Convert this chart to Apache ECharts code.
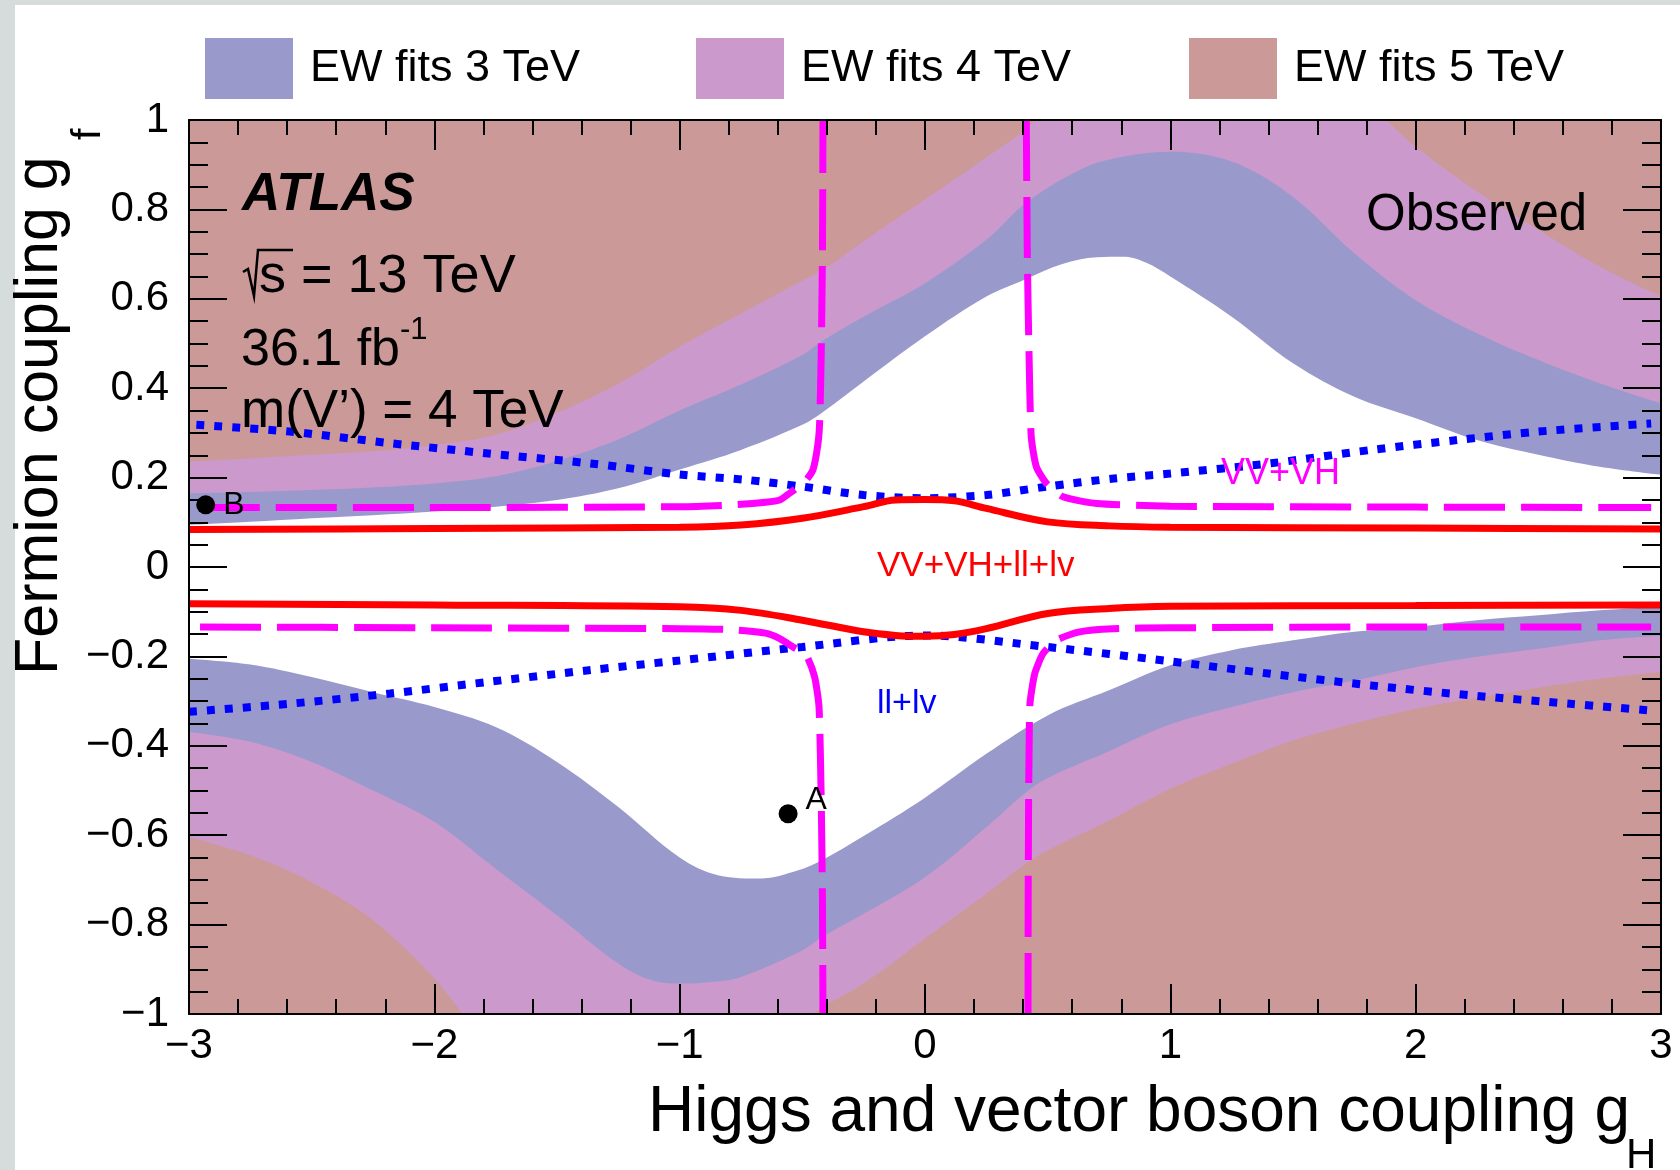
<!DOCTYPE html>
<html><head><meta charset="utf-8">
<script src="https://cdn.jsdelivr.net/npm/echarts/dist/echarts.min.js"></script>
<style>html,body{margin:0;padding:0;background:#fff}#c{width:1680px;height:1170px}</style>
</head><body><div id="c"></div>
<script>
// ---------- data ----------
const legendNames = ['EW fits 3 TeV', 'EW fits 4 TeV', 'EW fits 5 TeV'];
const bandColors = ['#9999cc', '#cc99cc', '#cc9999'];

// EW fit boundaries, upper half (area above curve excluded)
const up3 = [[-3,0.094],[-2.75,0.101],[-2.5,0.109],[-2.25,0.116],[-2,0.124],[-1.75,0.135],[-1.5,0.150],[-1.25,0.176],[-1,0.218],[-0.75,0.262],[-0.5,0.318],[-0.42,0.345],[-0.25,0.415],[0,0.516],[0.25,0.605],[0.41,0.644],[0.56,0.678],[0.7,0.693],[0.81,0.694],[0.9,0.681],[1,0.650],[1.25,0.560],[1.5,0.456],[1.75,0.381],[2,0.333],[2.25,0.284],[2.5,0.251],[2.75,0.224],[3,0.206]];
const up4 = [[-3,0.165],[-2.75,0.168],[-2.5,0.172],[-2.25,0.178],[-2,0.187],[-1.75,0.203],[-1.5,0.237],[-1.25,0.285],[-1,0.350],[-0.75,0.408],[-0.5,0.474],[-0.42,0.505],[-0.25,0.560],[0,0.635],[0.25,0.732],[0.41,0.814],[0.63,0.888],[0.77,0.914],[1,0.929],[1.25,0.907],[1.5,0.828],[1.75,0.702],[2,0.597],[2.25,0.523],[2.5,0.463],[2.75,0.411],[3,0.366]];
const up5a = [[-3,0.236],[-2.75,0.243],[-2.5,0.251],[-2.25,0.259],[-2,0.273],[-1.75,0.296],[-1.5,0.345],[-1.25,0.41],[-1,0.493],[-0.75,0.567],[-0.5,0.641],[-0.42,0.664],[-0.25,0.729],[0,0.822],[0.25,0.916],[0.41,0.978],[0.447,1.0]];
const up5b = [[1.88,1.0],[2,0.94],[2.25,0.84],[2.5,0.754],[2.75,0.672],[3,0.605]];
// lower half (area below curve excluded)
const lo3 = [[-3,-0.205],[-2.75,-0.218],[-2.5,-0.246],[-2.25,-0.280],[-2,-0.313],[-1.75,-0.358],[-1.5,-0.436],[-1.25,-0.537],[-1,-0.650],[-0.84,-0.690],[-0.67,-0.697],[-0.52,-0.679],[-0.42,-0.656],[-0.25,-0.602],[0,-0.516],[0.25,-0.418],[0.5,-0.332],[0.75,-0.276],[1,-0.220],[1.25,-0.186],[1.5,-0.164],[1.75,-0.145],[2,-0.134],[2.25,-0.119],[2.5,-0.108],[2.75,-0.097],[3,-0.089]];
const lo4 = [[-3,-0.369],[-2.75,-0.391],[-2.5,-0.436],[-2.25,-0.50],[-2,-0.570],[-1.75,-0.675],[-1.5,-0.779],[-1.25,-0.887],[-1.1,-0.927],[-1,-0.932],[-0.86,-0.928],[-0.75,-0.917],[-0.5,-0.858],[-0.42,-0.828],[-0.25,-0.776],[0,-0.694],[0.25,-0.582],[0.41,-0.505],[0.5,-0.472],[0.75,-0.412],[1,-0.352],[1.25,-0.313],[1.5,-0.28],[1.75,-0.254],[2,-0.224],[2.25,-0.201],[2.5,-0.183],[2.75,-0.164],[3,-0.153]];
const lo5a = [[-3,-0.604],[-2.75,-0.645],[-2.5,-0.705],[-2.25,-0.79],[-2,-0.92],[-1.886,-1.0]];
const lo5b = [[-0.457,-1.0],[-0.42,-0.985],[-0.25,-0.932],[0,-0.831],[0.25,-0.731],[0.41,-0.664],[0.5,-0.634],[0.75,-0.567],[1,-0.496],[1.25,-0.44],[1.5,-0.388],[1.75,-0.35],[2,-0.317],[2.25,-0.293],[2.5,-0.27],[2.75,-0.25],[3,-0.235]];

// VV+VH+ll+lv (red, solid)
const combUp = [[-3,0.084],[-2,0.086],[-1,0.089],[-0.75,0.094],[-0.5,0.109],[-0.25,0.135],[-0.12,0.150],[0,0.151],[0.12,0.148],[0.25,0.131],[0.5,0.101],[0.75,0.092],[1,0.089],[2,0.087],[3,0.085]];
const combLo = [[-3,-0.082],[-2,-0.085],[-1,-0.089],[-0.75,-0.097],[-0.5,-0.119],[-0.25,-0.145],[-0.12,-0.153],[0,-0.155],[0.12,-0.151],[0.25,-0.138],[0.5,-0.104],[0.75,-0.093],[1,-0.088],[2,-0.086],[3,-0.085]];

// VV+VH (magenta, dashed)
const vvUL = [[-2.96,0.133],[-2,0.133],[-1,0.135],[-0.78,0.139],[-0.65,0.145],[-0.592,0.150],[-0.552,0.165],[-0.49,0.191],[-0.457,0.217],[-0.436,0.277],[-0.429,0.329],[-0.423,0.478],[-0.418,0.70],[-0.416,1.0]];
const vvUR = [[0.413,1.0],[0.417,0.70],[0.424,0.478],[0.433,0.292],[0.454,0.224],[0.495,0.187],[0.563,0.157],[0.70,0.142],[1,0.136],[2,0.134],[2.96,0.133]];
const vvLL = [[-2.955,-0.134],[-2,-0.136],[-1,-0.138],[-0.8,-0.140],[-0.65,-0.148],[-0.592,-0.160],[-0.538,-0.179],[-0.484,-0.198],[-0.45,-0.246],[-0.432,-0.313],[-0.423,-0.522],[-0.418,-0.746],[-0.416,-1.0]];
const vvLR = [[0.42,-1.0],[0.421,-0.671],[0.427,-0.313],[0.447,-0.239],[0.481,-0.194],[0.535,-0.164],[0.63,-0.145],[0.766,-0.138],[1,-0.136],[2,-0.134],[2.96,-0.134]];

// ll+lv (blue, dotted)
const llUp = [[-2.97,0.318],[-2.59,0.303],[-2.18,0.277],[-1.78,0.254],[-1.37,0.232],[-1,0.207],[-0.73,0.195],[-0.5,0.18],[-0.25,0.161],[0,0.154],[0.25,0.161],[0.5,0.18],[0.77,0.198],[1,0.209],[1.41,0.232],[1.82,0.262],[2.17,0.284],[2.5,0.303],[2.96,0.321]];
const llLo = [[-3,-0.324],[-2.59,-0.306],[-2.18,-0.283],[-1.78,-0.257],[-1.37,-0.231],[-1,-0.209],[-0.5,-0.179],[0,-0.153],[0.5,-0.179],[1,-0.211],[1.41,-0.239],[1.82,-0.265],[2.22,-0.287],[2.63,-0.306],[2.96,-0.321]];

// benchmark points
const pointNames = ['A', 'B'];
const pointValues = [[-0.558,-0.552], [-2.932,0.139]];

// axes
const xRange = [-3, 3];
const yRange = [-1, 1];

// ---------- chart ----------
const FONT = '"Liberation Sans", Arial, Helvetica, sans-serif';
const minus = v => (v < 0 ? '\u2212' + Math.abs(v) : String(v));

function band(name, data, color, origin, z) {
  return {
    type: 'line', name, data, symbol: 'none', showSymbol: false,
    smooth: 0.35, silent: true, animation: false,
    color, itemStyle: { color },
    lineStyle: { width: 0, opacity: 0 },
    areaStyle: { color, opacity: 1, origin },
    z, clip: true
  };
}
function curve(data, color, width, type, z, smooth) {
  return {
    type: 'line', data, symbol: 'none', showSymbol: false,
    smooth: smooth, silent: true, animation: false,
    lineStyle: { color, width, type, cap: 'butt' }, z, clip: true
  };
}

const series = [
  band(legendNames[0], up3, bandColors[0], 'end', 1),
  band(legendNames[0], lo3, bandColors[0], 'start', 1),
  band(legendNames[1], up4, bandColors[1], 'end', 2),
  band(legendNames[1], lo4, bandColors[1], 'start', 2),
  band(legendNames[2], up5a, bandColors[2], 'end', 3),
  band(legendNames[2], up5b, bandColors[2], 'end', 3),
  band(legendNames[2], lo5a, bandColors[2], 'start', 3),
  band(legendNames[2], lo5b, bandColors[2], 'start', 3),
  curve(llUp, '#0000ff', 8, [8, 10], 5, 0.3),
  curve(llLo, '#0000ff', 8, [8, 10], 5, 0.3),
  curve(vvUL, '#ff00ff', 7, [61, 16], 6, 0.2),
  curve(vvUR, '#ff00ff', 7, [61, 16], 6, 0.2),
  curve(vvLL, '#ff00ff', 7, [61, 16], 6, 0.2),
  curve(vvLR, '#ff00ff', 7, [61, 16], 6, 0.2),
  curve(combUp, '#ff0000', 7, 'solid', 7, 0.35),
  curve(combLo, '#ff0000', 7, 'solid', 7, 0.35),
  {
    type: 'scatter', silent: true, animation: false, z: 8,
    data: pointValues.map((v, i) => ({
      value: v,
      label: { offset: i === 0 ? [0, -14] : [0, 0] }
    })),
    symbol: 'circle', symbolSize: 19, itemStyle: { color: '#000', opacity: 1 },
    label: {
      show: true, position: 'right', distance: 8,
      formatter: p => pointNames[p.dataIndex],
      fontFamily: FONT, fontSize: 32, color: '#000'
    }
  }
];

const legendLefts = [200, 691, 1184];
const legends = legendNames.map((n, i) => ({
  left: legendLefts[i], top: 33, orient: 'horizontal',
  itemWidth: 88, itemHeight: 61, selectedMode: false,
  data: [{ name: n, icon: 'rect', itemStyle: { color: bandColors[i], borderWidth: 0, opacity: 1 } }],
  textStyle: { fontFamily: FONT, fontSize: 45, color: '#000', padding: [0, 0, 0, 12] }
}));

const axisCommon = {
  type: 'value', z: 10,
  axisLine: { show: true, onZero: false, lineStyle: { color: '#000', width: 2 } },
  splitLine: { show: false }, minorSplitLine: { show: false }
};

function xAx(pos, labels) {
  return Object.assign({}, axisCommon, {
    position: pos, min: xRange[0], max: xRange[1], interval: 1,
    axisTick: { show: true, inside: true, length: 30, lineStyle: { color: '#000', width: 2 } },
    minorTick: { show: true, splitNumber: 5, length: 15, lineStyle: { color: '#000', width: 2 } },
    axisLabel: { show: labels, margin: 11, formatter: minus, fontFamily: FONT, fontSize: 42, color: '#000',
                 showMinLabel: true, showMaxLabel: true, hideOverlap: false }
  });
}
function yAx(pos, labels) {
  return Object.assign({}, axisCommon, {
    position: pos, min: yRange[0], max: yRange[1], interval: 0.2,
    axisTick: { show: true, inside: true, length: 38, lineStyle: { color: '#000', width: 2 } },
    minorTick: { show: true, splitNumber: 4, length: 19, lineStyle: { color: '#000', width: 2 } },
    axisLabel: { show: labels, margin: 20, fontFamily: FONT, fontSize: 42, color: '#000',
                 showMinLabel: true, showMaxLabel: true, hideOverlap: false,
                 formatter: v => minus(Math.round(v * 10) / 10) }
  });
}

const T = (text, x, y, size, opts) => Object.assign({
  type: 'text', x, y, silent: true, z: 100,
  style: Object.assign({
    text, fill: '#000', font: size + 'px ' + FONT,
    align: 'left', verticalAlign: 'middle', textAlign: 'left', textVerticalAlign: 'middle'
  }, (opts && opts.style) || {})
}, (opts && opts.el) || {});

const graphic = [
  { type: 'rect', shape: { x: 0, y: 0, width: 15, height: 1170 }, style: { fill: '#d6dbdb' }, silent: true, z: 0 },
  { type: 'rect', shape: { x: 0, y: 0, width: 1680, height: 5 }, style: { fill: '#d6dbdb' }, silent: true, z: 0 },
  T('ATLAS', 242, 195, 52, { style: { font: 'italic bold 53px ' + FONT } }),
  { type: 'polyline', silent: true, z: 100,
    shape: { points: [[243, 272], [248, 269], [254, 296], [258, 250], [293, 250]] },
    style: { stroke: '#000', lineWidth: 2.5, fill: null } },
  T('s = 13 TeV', 259, 277, 54),
  T('36.1 fb', 241, 351, 52),
  T('-1', 400, 330, 31),
  T('m(V\u2019) = 4 TeV', 241, 412, 53),
  T('Observed', 1366, 216, 51),
  T('VV+VH', 1221, 474, 36, { style: { fill: '#ff00ff' } }),
  T('VV+VH+ll+lv', 877, 566, 35, { style: { fill: '#ff0000' } }),
  T('ll+lv', 877, 704, 34, { style: { fill: '#0000ff' } }),
  // axis titles
  T('Higgs and vector boson coupling g', 1630, 1113, 64, { style: { align: 'right', textAlign: 'right' } }),
  T('H', 1626, 1156, 42),
  T('Fermion coupling g', 40, 675, 61, { el: { rotation: Math.PI / 2 } }),
  T('f', 89, 140, 41, { el: { rotation: Math.PI / 2 } })
];

const chart = echarts.init(document.getElementById('c'), null, { renderer: 'canvas' });
chart.setOption({
  animation: false,
  backgroundColor: '#ffffff',
  textStyle: { fontFamily: FONT },
  grid: { left: 189, right: 19, top: 120, bottom: 156, containLabel: false, outerBoundsMode: 'none' },
  legend: legends,
  xAxis: [xAx('bottom', true), xAx('top', false)],
  yAxis: [yAx('left', true), yAx('right', false)],
  series,
  graphic
});
</script></body></html>
